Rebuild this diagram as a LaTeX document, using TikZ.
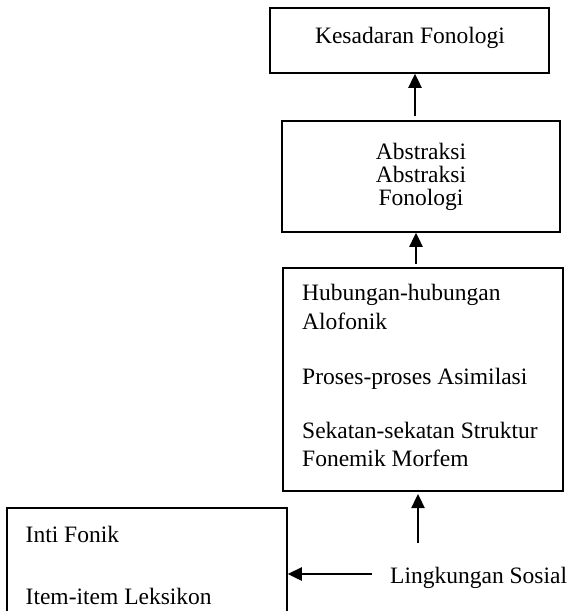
\documentclass[tikz,border=0pt]{standalone}
\usepackage{fontspec}
\setmainfont{Liberation Serif}
\usetikzlibrary{arrows.meta}
\begin{document}
\begin{tikzpicture}[x=1pt,y=-1pt,
  box/.style={draw,line width=1.5pt,inner sep=0pt},
  lbl/.style={inner sep=0pt,anchor=base,font=\fontsize{23.5}{28}\selectfont},
  lbll/.style={lbl,anchor=base west},
  arr/.style={line width=2.4pt,-{Triangle[length=14pt,width=13pt]}}]
\useasboundingbox (0,0) rectangle (571,611);
% boxes
\node[box,minimum width=279pt,minimum height=65pt] (k) at (409.5,40.5) {};
\node[box,minimum width=278pt,minimum height=111pt] (ab) at (421,176.5) {};
\node[box,minimum width=280pt,minimum height=223pt] (h) at (423,379.5) {};
\begin{scope}
\clip (0,0) rectangle (571,611);
\node[box,minimum width=280pt,minimum height=132pt] (inti) at (147,574) {};
\end{scope}
% texts
\node[lbl] (t1) at (410,43) {Kesadaran Fonologi};
\node[lbl] (t2) at (421,159) {Abstraksi};
\node[lbl] (t3) at (421,182) {Abstraksi};
\node[lbl] (t4) at (421,205) {Fonologi};
\node[lbll] (t5) at (302,300) {Hubungan-hubungan};
\node[lbll] (t6) at (302,329) {Alofonik};
\node[lbll] (t7) at (302,384) {Proses-proses Asimilasi};
\node[lbll] (t8) at (302,438) {Sekatan-sekatan Struktur};
\node[lbll] (t9) at (302,466) {Fonemik Morfem};
\node[lbll] (t10) at (25.5,542) {Inti Fonik};
\node[lbll] (t11) at (25.5,604) {Item-item Leksikon};
\node[lbll] (ls) at (390,583) {Lingkungan Sosial};
% arrows
\coordinate (s1) at (415,116);
\coordinate (s2) at (416,264);
\coordinate (s3) at (418,543);
\coordinate (s4) at (372,574);
\coordinate (e3) at (418,494);
\draw[arr] (s1) -- (s1 |- k.south);
\draw[arr] (s2) -- (s2 |- ab.south);
\draw[arr] (s3) -- (e3);
\draw[arr] (s4) -- (s4 -| inti.east);
\end{tikzpicture}
\end{document}
